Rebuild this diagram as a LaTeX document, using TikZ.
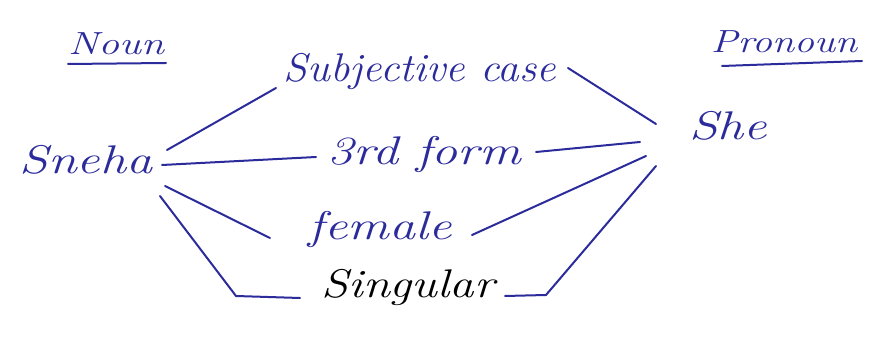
\documentclass[tikz,border=0pt]{standalone}
\usepackage{fontspec}
\setmainfont{Latin Modern Roman}
\definecolor{ink}{HTML}{2B2B9C}
% hand-lettered look: wide italic
\newcommand\hw[2][1.3]{\scalebox{#1}[1]{#2}}
\begin{document}
\begin{tikzpicture}[x=1pt,y=-1pt,
  word/.style={font=\itshape\fontsize{40}{44}\selectfont, text=ink, inner sep=2pt},
  head/.style={font=\itshape\fontsize{32}{36}\selectfont, text=ink, inner sep=2pt},
  link/.style={draw=ink, line width=2pt, line cap=round, line join=round}]
  \useasboundingbox (0,0) rectangle (878,352);
  % headings
  \node[head] (noun) at (116,44) {\hw{Noun}};
  \node[head] (pron) at (784,42) {\hw[1.25]{Pronoun}};
  \draw[link] (68,64) -- (166,63);
  \draw[link] (722,66) -- (862,61);
  % the two words being compared
  \node[word] (sneha) at (86,160) {\hw{Sneha}};
  \node[word] (she) at (728,126) {\hw{She}};
  % shared features
  \node[word] (subj) at (420,72) {\hw[1.08]{Subjective case}};
  \node[word] (third) at (424,155) {\hw{3rd form}};
  \node[word] (fem) at (380,230) {\hw{female}};
  \node[word, text=black] (sing) at (408,288) {\hw[1.22]{Singular}};
  % connectors
  \coordinate (b1) at (236,296);
  \coordinate (b2) at (546,295);
  \draw[link] (167,150) -- (276,88);
  \draw[link] (568,68) -- (656,124);
  \draw[link] (162,165) -- (316,157);
  \draw[link] (536,152) -- (640,142);
  \draw[link] (165,186) -- (270,238);
  \draw[link] (472,235) -- (646,156);
  \draw[link] (160,196) -- (b1) -- (300,298);
  \draw[link] (505,296) -- (b2) -- (656,166);
\end{tikzpicture}
\end{document}
